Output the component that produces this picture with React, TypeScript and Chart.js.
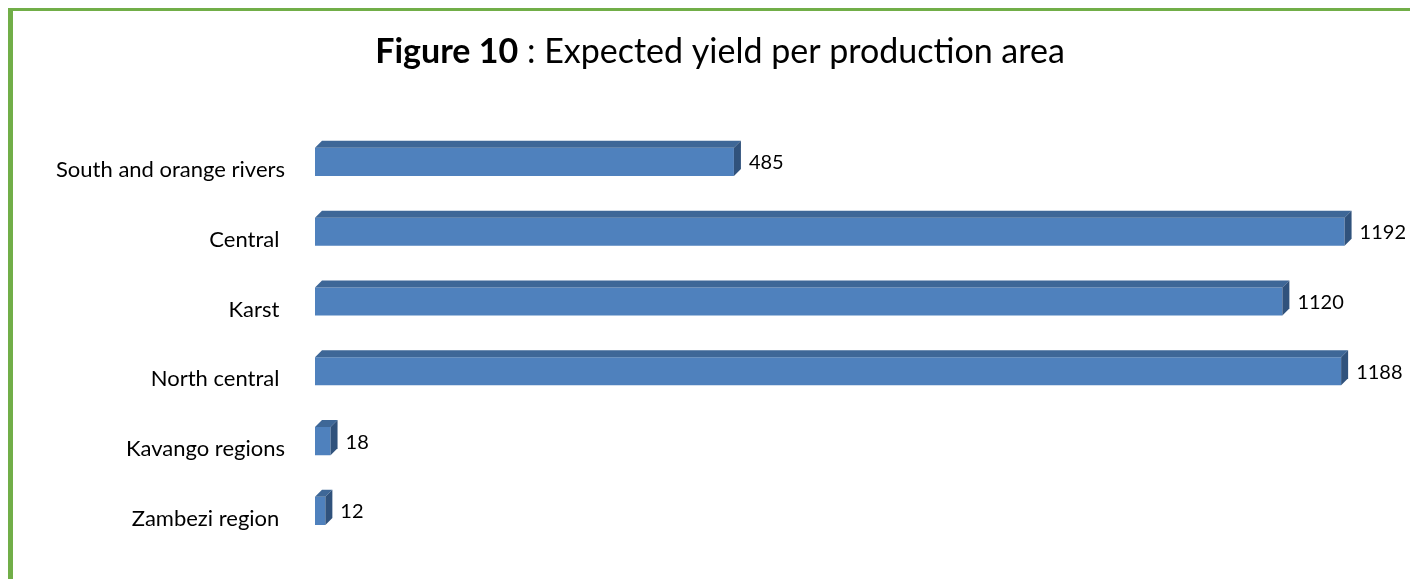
import React, { useEffect, useRef } from "react";
import { Chart, registerables } from "chart.js";

Chart.register(...registerables);

const categories = [
  "South and orange rivers",
  "Central ",
  "Karst ",
  "North central ",
  "Kavango regions",
  "Zambezi region ",
];
const yieldValues = [485, 1192, 1120, 1188, 18, 12];
const titleBold = "Figure 10";
const titleRest = " : Expected yield per production area";

const FONT = "Lato, 'Open Sans', sans-serif";
const DEPTH = 7;

const bar3dPlugin = {
  id: "bar3d",
  afterDatasetsDraw(chart: any) {
    const ctx = chart.ctx;
    const meta = chart.getDatasetMeta(0);
    ctx.save();
    meta.data.forEach((el: any, i: number) => {
      const p = el.getProps(["x", "y", "base", "height"], true);
      const top = p.y - p.height / 2;
      const bottom = p.y + p.height / 2;
      const x = p.x;
      const base = p.base;
      // top face
      ctx.fillStyle = "#3e6797";
      ctx.beginPath();
      ctx.moveTo(base, top);
      ctx.lineTo(base + DEPTH, top - DEPTH);
      ctx.lineTo(x + DEPTH, top - DEPTH);
      ctx.lineTo(x, top);
      ctx.closePath();
      ctx.fill();
      // right face
      ctx.fillStyle = "#30527c";
      ctx.beginPath();
      ctx.moveTo(x, top);
      ctx.lineTo(x + DEPTH, top - DEPTH);
      ctx.lineTo(x + DEPTH, bottom - DEPTH);
      ctx.lineTo(x, bottom);
      ctx.closePath();
      ctx.fill();
      // value label
      ctx.fillStyle = "#000";
      ctx.font = `20px ${FONT}`;
      ctx.textAlign = "left";
      ctx.textBaseline = "middle";
      ctx.fillText(String(yieldValues[i]), x + DEPTH + 8, p.y + 1);
    });
    ctx.restore();
  },
};

const titlePlugin = {
  id: "richTitle",
  afterDraw(chart: any) {
    const ctx = chart.ctx;
    ctx.save();
    ctx.fillStyle = "#000";
    ctx.textBaseline = "alphabetic";
    ctx.textAlign = "left";
    ctx.font = `bold 34px ${FONT}`;
    const w1 = ctx.measureText(titleBold).width;
    ctx.font = `34px ${FONT}`;
    const w2 = ctx.measureText(titleRest).width;
    const cx = 707;
    const startX = cx - (w1 + w2) / 2;
    const baseY = 52;
    ctx.font = `bold 34px ${FONT}`;
    ctx.fillText(titleBold, startX, baseY);
    ctx.font = `34px ${FONT}`;
    ctx.fillText(titleRest, startX + w1, baseY);
    ctx.restore();
  },
};

export default function App() {
  const ref = useRef<HTMLCanvasElement>(null);
  useEffect(() => {
    document.body.style.overflow = "hidden";
    const chart = new Chart(ref.current!, {
      type: "bar",
      data: {
        labels: categories,
        datasets: [
          {
            data: yieldValues,
            backgroundColor: "#4f81bd",
            borderWidth: 0,
            barPercentage: 0.403,
            categoryPercentage: 1,
          },
        ],
      },
      options: {
        indexAxis: "y",
        animation: false,
        responsive: false,
        layout: { padding: { top: 116, bottom: 34, left: 0, right: 0 } },
        plugins: {
          legend: { display: false },
          title: { display: false },
          tooltip: { enabled: false },
        },
        scales: {
          x: {
            display: false,
            min: 0,
            max: 1277,
          },
          y: {
            grid: { display: false, drawTicks: false },
            border: { display: false },
            ticks: {
              color: "#000",
              font: { family: FONT, size: 22 },
              padding: 30,
              labelOffset: 8,
            },
            afterFit(scale: any) {
              scale.width = 302;
            },
          },
        },
      },
      plugins: [bar3dPlugin, titlePlugin],
    });
    return () => chart.destroy();
  }, []);
  return (
    <div
      style={{
        width: 1410,
        height: 571,
        overflow: "hidden",
        boxSizing: "border-box",
        borderTop: "3px solid #71ae48",
        borderLeft: "5px solid #71ae48",
        background: "#fff",
      }}
    >
      <canvas ref={ref} width={1405} height={578} style={{ display: "block" }} />
    </div>
  );
}
